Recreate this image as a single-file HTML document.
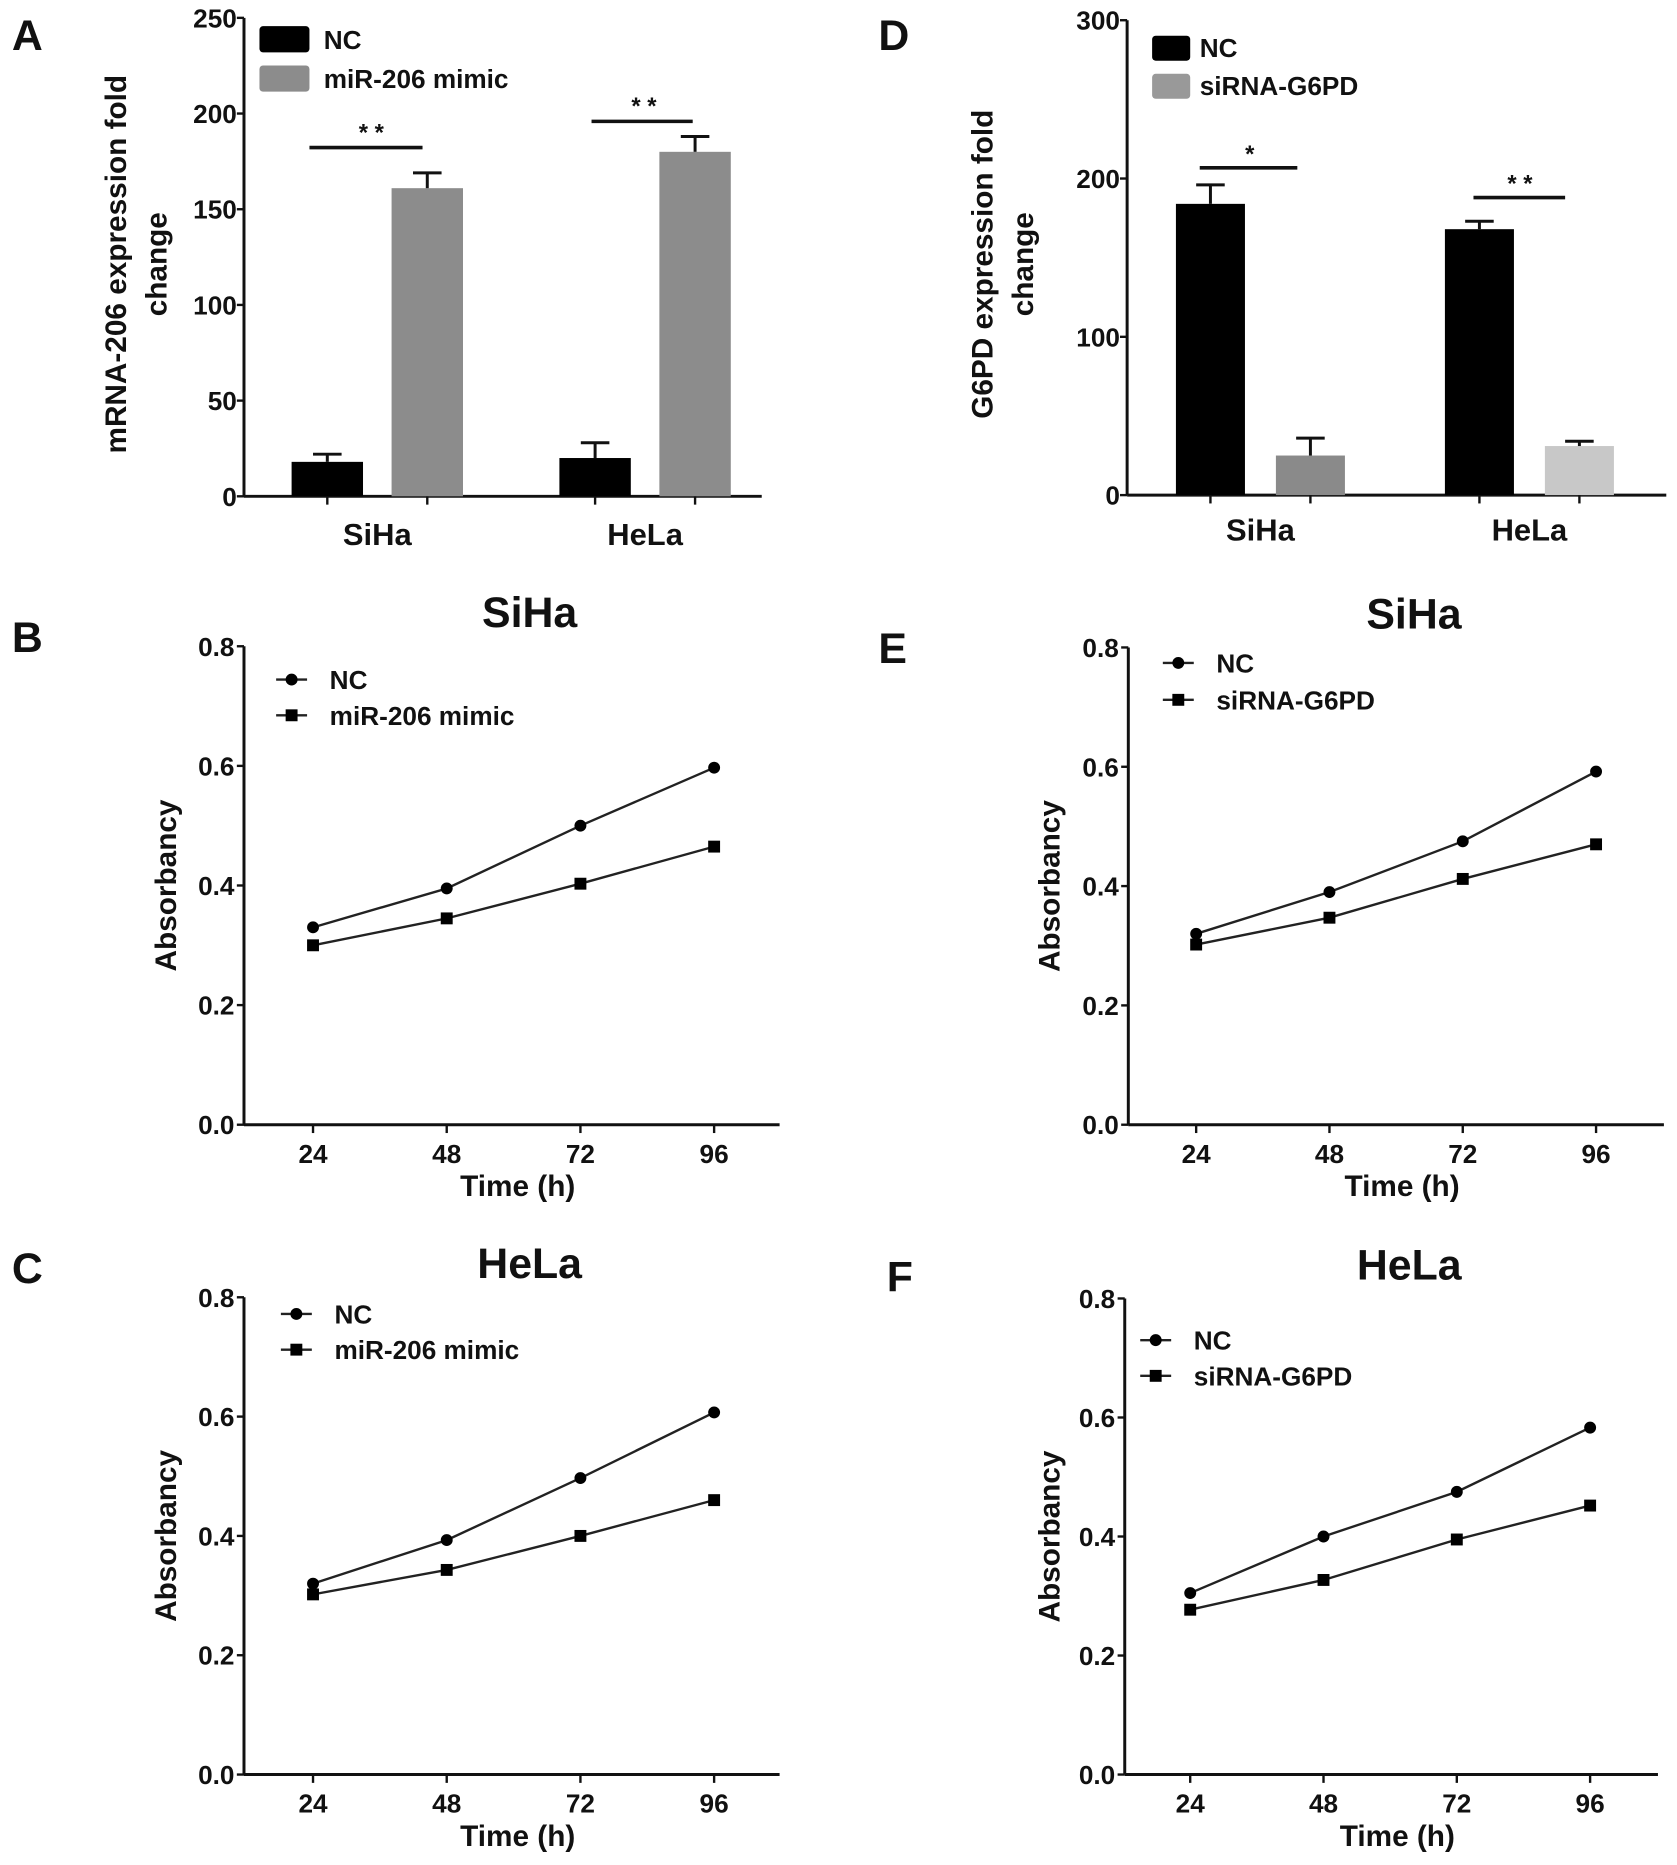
<!DOCTYPE html>
<html><head><meta charset="utf-8"><style>
html,body{margin:0;padding:0;background:#fff}
svg{display:block}
text{font-family:"Liberation Sans",Arial,sans-serif;font-weight:bold;fill:#111}
</style></head><body>
<svg id="fig" width="1677" height="1865" viewBox="0 0 1409 1567" preserveAspectRatio="none" xmlns="http://www.w3.org/2000/svg"></svg>
<script>
// ===== Panel A data =====
const aCats = ["SiHa","HeLa"];
const aNC = [18, 20];
const aNCerr = [22, 28];
const aMimic = [161, 180];
const aMimicErr = [169, 188];
const aTicks = [0,50,100,150,200,250];
// ===== Panel D data =====
const dCats = ["SiHa","HeLa"];
const dNC = [184, 168];
const dNCerr = [196, 173];
const dSi = [25, 31];
const dSiErr = [36, 34];
const dTicks = [0,100,200,300];
// ===== Line panels data =====
const times = [24,48,72,96];
const absTicks = [0,0.2,0.4,0.6,0.8];
const bNC = [0.33,0.395,0.50,0.597];
const bMimic = [0.30,0.345,0.403,0.465];
const cNC = [0.32,0.393,0.497,0.607];
const cMimic = [0.302,0.343,0.40,0.46];
const eNC = [0.32,0.39,0.475,0.592];
const eSi = [0.302,0.347,0.412,0.47];
const fNC = [0.305,0.40,0.475,0.583];
const fSi = [0.277,0.327,0.395,0.452];

const NS="http://www.w3.org/2000/svg";
const svg=document.getElementById('fig');
function el(tag,attrs,parent,txt){const e=document.createElementNS(NS,tag);for(const k in attrs)e.setAttribute(k,attrs[k]);if(txt!==undefined)e.textContent=txt;(parent||svg).appendChild(e);return e;}
function grp(name){const g=el('g',{},svg);


return g;}
function txt(g,x,y,s,size,anchor,name,rot){const t=el('text',{x:x,y:y,'font-size':size,'text-anchor':anchor||'middle'},g,s);
if(rot)t.setAttribute('transform','rotate(-90 '+x+' '+y+')');


return t;}

function barPanel(name,o){
 const g=grp(name);
 const y=v=>o.y0-(v/o.max)*(o.y0-o.yTop);
 el('line',{x1:o.x0,y1:o.yTop,x2:o.x0,y2:o.y0,stroke:'#111','stroke-width':2.5},g);
 el('line',{x1:o.x0,y1:o.y0,x2:o.x1,y2:o.y0,stroke:'#111','stroke-width':2.5},g);
 o.ticks.forEach(t=>{el('line',{x1:o.x0-6,y1:y(t),x2:o.x0,y2:y(t),stroke:'#111','stroke-width':2},g);
  txt(g,o.x0-6,y(t)+8,String(t),22,'end','y-tick-label');});
 o.cats.forEach((c,i)=>{
  const cx=o.groupX[i];
  const series=[[o.s1,o.e1,o.c1[i],cx-o.off],[o.s2,o.e2,o.c2[i],cx+o.off]];
  series.forEach(([s,e,col,bx],j)=>{
   const r=el('rect',{x:bx-o.bw/2,y:y(s[i]),width:o.bw,height:o.y0-y(s[i]),fill:col},g);
   
   
   el('line',{x1:bx,y1:y(s[i]),x2:bx,y2:y(e[i]),stroke:'#111','stroke-width':2.5},g);
   el('line',{x1:bx-12,y1:y(e[i]),x2:bx+12,y2:y(e[i]),stroke:'#111','stroke-width':2.5},g);
   el('line',{x1:bx,y1:o.y0,x2:bx,y2:o.y0+7,stroke:'#111','stroke-width':2},g);
  });
  txt(g,cx,o.catY,c,26,'middle','x-category-label');
 });
 return {g,y};
}

// Panel A
(function(){
 const p=barPanel('panel-a-chart',{x0:205,x1:640,y0:417,yTop:15,max:250,ticks:aTicks,cats:aCats,groupX:[317,542],off:42,bw:60,
  s1:aNC,e1:aNCerr,s2:aMimic,e2:aMimicErr,c1:['#000','#000'],c2:['#8c8c8c','#8c8c8c'],n2:'mimic',catY:458});
 const g=p.g;
 txt(g,10,42,'A',36,'start','panel-label-a');
 txt(g,106,222,'mRNA-206 expression fold',25,'middle','y-axis-title',true);
 txt(g,140,222,'change',25,'middle','y-axis-title-line2',true);
 el('rect',{x:218,y:22,width:42,height:22,rx:3,fill:'#000'},g);
 txt(g,272,41,'NC',22,'start','legend-entry-nc');
 el('rect',{x:218,y:55,width:42,height:22,rx:3,fill:'#8c8c8c'},g);
 txt(g,272,74,'miR-206 mimic',22,'start','legend-entry-mimic');
 el('line',{x1:260,y1:124,x2:355,y2:124,stroke:'#111','stroke-width':3},g);
 txt(g,312,118,'* *',20,'middle','significance-siha');
 el('line',{x1:497,y1:102,x2:582,y2:102,stroke:'#111','stroke-width':3},g);
 txt(g,541,96,'* *',20,'middle','significance-hela');
})();

// Panel D
(function(){
 const p=barPanel('panel-d-chart',{x0:947,x1:1400,y0:416,yTop:17,max:300,ticks:dTicks,cats:dCats,groupX:[1059,1285],off:42,bw:58,
  s1:dNC,e1:dNCerr,s2:dSi,e2:dSiErr,c1:['#000','#000'],c2:['#8a8a8a','#c8c8c8'],n2:'sirna',catY:454});
 const g=p.g;
 txt(g,738,42,'D',36,'start','panel-label-d');
 txt(g,834,222,'G6PD expression fold',25,'middle','y-axis-title',true);
 txt(g,868,222,'change',25,'middle','y-axis-title-line2',true);
 el('rect',{x:968,y:30,width:32,height:21,rx:3,fill:'#000'},g);
 txt(g,1008,48,'NC',22,'start','legend-entry-nc');
 el('rect',{x:968,y:62,width:32,height:21,rx:3,fill:'#999'},g);
 txt(g,1008,80,'siRNA-G6PD',22,'start','legend-entry-sirna');
 el('line',{x1:1008,y1:141,x2:1090,y2:141,stroke:'#111','stroke-width':3},g);
 txt(g,1050,136,'*',20,'middle','significance-siha');
 el('line',{x1:1238,y1:166,x2:1315,y2:166,stroke:'#111','stroke-width':3},g);
 txt(g,1277,161,'* *',20,'middle','significance-hela');
})();

function linePanel(name,o){
 const g=grp(name);
 const y=v=>o.y0-(v/0.8)*(o.y0-o.yTop);
 const x=t=>o.xs+(t-24)/72*(o.xe-o.xs);
 el('line',{x1:o.x0,y1:o.yTop,x2:o.x0,y2:o.y0,stroke:'#111','stroke-width':2.5},g);
 el('line',{x1:o.x0,y1:o.y0,x2:o.x1,y2:o.y0,stroke:'#111','stroke-width':2.5},g);
 absTicks.forEach(t=>{el('line',{x1:o.x0-6,y1:y(t),x2:o.x0,y2:y(t),stroke:'#111','stroke-width':2},g);
  txt(g,o.x0-8,y(t)+8,t.toFixed(1),22,'end','y-tick-label');});
 times.forEach(t=>{el('line',{x1:x(t),y1:o.y0,x2:x(t),y2:o.y0+7,stroke:'#111','stroke-width':2},g);
  txt(g,x(t),o.y0+32,String(t),22,'middle','x-tick-label');});
 txt(g,(o.x0+o.x1)/2+5,o.y0+60,'Time (h)',25,'middle','x-axis-title');
 txt(g,o.yTitleX,(o.yTop+o.y0)/2,'Absorbancy',25,'middle','y-axis-title',true);
 txt(g,(o.x0+o.x1)/2+15,o.yTop-16,o.title,36,'middle','chart-title');
 txt(g,o.lx,o.ly,o.letter,36,'start','panel-label');
 [[o.s1,'circle','nc'],[o.s2,'square',o.n2]].forEach(([s,m,n])=>{
  const pts=times.map((t,i)=>x(t)+','+y(s[i])).join(' ');
  const pl=el('polyline',{points:pts,fill:'none',stroke:'#222','stroke-width':2},g);
  
  
  times.forEach((t,i)=>{
   const mk=m==='circle'?el('circle',{cx:x(t),cy:y(s[i]),r:5,fill:'#000'},g):el('rect',{x:x(t)-5,y:y(s[i])-5,width:10,height:10,fill:'#000'},g);
   
   
  });
 });
 // legend
 el('line',{x1:o.legX,y1:o.legY1,x2:o.legX+26,y2:o.legY1,stroke:'#222','stroke-width':2},g);
 el('circle',{cx:o.legX+13,cy:o.legY1,r:5,fill:'#000'},g);
 txt(g,o.legX+45,o.legY1+8,'NC',22,'start','legend-entry-nc');
 el('line',{x1:o.legX,y1:o.legY2,x2:o.legX+26,y2:o.legY2,stroke:'#222','stroke-width':2},g);
 el('rect',{x:o.legX+8,y:o.legY2-5,width:10,height:10,fill:'#000'},g);
 txt(g,o.legX+45,o.legY2+8,o.l2,22,'start','legend-entry-'+o.n2);
}

linePanel('panel-b-chart',{x0:205,x1:655,y0:945,yTop:543,xs:263,xe:600,s1:bNC,s2:bMimic,n2:'mimic',l2:'miR-206 mimic',title:'SiHa',letter:'B',lx:10,ly:548,yTitleX:148,legX:232,legY1:571,legY2:601});
linePanel('panel-c-chart',{x0:205,x1:655,y0:1491,yTop:1090,xs:263,xe:600,s1:cNC,s2:cMimic,n2:'mimic',l2:'miR-206 mimic',title:'HeLa',letter:'C',lx:10,ly:1078,yTitleX:148,legX:236,legY1:1104,legY2:1134});
linePanel('panel-e-chart',{x0:948,x1:1398,y0:945,yTop:544,xs:1005,xe:1341,s1:eNC,s2:eSi,n2:'sirna',l2:'siRNA-G6PD',title:'SiHa',letter:'E',lx:738,ly:557,yTitleX:890,legX:977,legY1:557,legY2:588});
linePanel('panel-f-chart',{x0:945,x1:1393,y0:1491,yTop:1091,xs:1000,xe:1336,s1:fNC,s2:fSi,n2:'sirna',l2:'siRNA-G6PD',title:'HeLa',letter:'F',lx:745,ly:1085,yTitleX:890,legX:958,legY1:1126,legY2:1156});
</script>
</body></html>
